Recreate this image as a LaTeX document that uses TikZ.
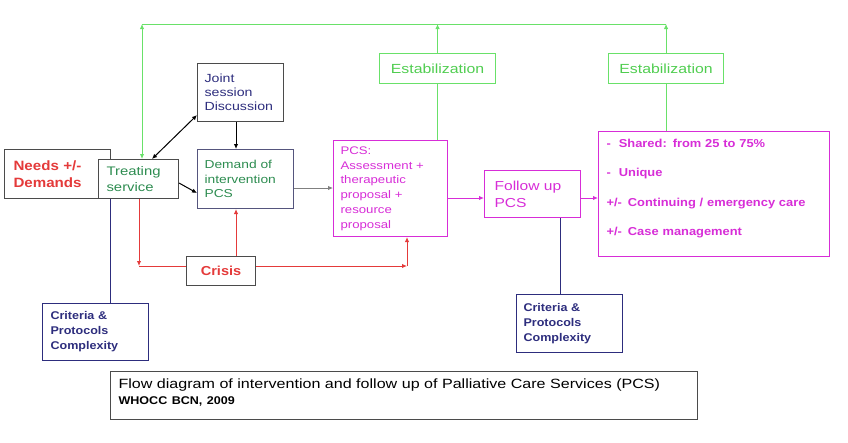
\documentclass[tikz,border=0pt]{standalone}
\usepackage{fontspec}
\setmainfont{Liberation Sans}[FakeStretch=1.2, BoldFeatures={FakeStretch=1.12}]
\usetikzlibrary{arrows.meta,calc}
\definecolor{redc}{RGB}{228,58,58}
\definecolor{greenl}{RGB}{105,225,105}
\definecolor{greent}{RGB}{80,205,80}
\definecolor{dgreen}{RGB}{45,140,80}
\definecolor{magc}{RGB}{215,45,215}
\definecolor{navyc}{RGB}{45,45,125}
\definecolor{greyc}{RGB}{75,75,75}
\definecolor{demb}{RGB}{85,85,125}
\begin{document}
\begin{tikzpicture}[x=1pt,y=-1pt,
  bx/.style={draw, rectangle, line width=1.1pt, anchor=north west, align=left, inner ysep=2pt},
  ln/.style={line width=1pt},
  tip/.style={-{Latex[length=5pt,width=4.5pt]}},
  tips/.style={{Latex[length=5pt,width=4.5pt]}-{Latex[length=5pt,width=4.5pt]}}
]
\useasboundingbox (0,0) rectangle (848,442);
% boxes
\node[bx, draw=greyc, text=redc, font=\fontsize{13.5}{17}\selectfont\bfseries,
  minimum width=106pt, minimum height=49pt, text width=88pt, inner xsep=9pt] (needs) at (4,149) {Needs +/-\\Demands};
\node[bx, draw=greyc, fill=white, text=dgreen, font=\fontsize{12.4}{15.5}\selectfont,
  minimum width=80pt, minimum height=39pt, text width=64pt, inner xsep=8pt] (treat) at (98,159) {Treating\\service};
\node[bx, draw=greyc, text=navyc, font=\fontsize{11.8}{14}\selectfont,
  minimum width=86pt, minimum height=58pt, text width=72pt, inner xsep=7pt] (joint) at (197,63) {Joint\\session\\Discussion};
\node[bx, draw=demb, text=dgreen, font=\fontsize{11.5}{14.5}\selectfont,
  minimum width=96pt, minimum height=59pt, text width=82pt, inner xsep=7pt] (demand) at (197,149) {Demand of\\intervention\\PCS};
\node[bx, draw=greyc, text=redc, font=\fontsize{13}{15}\selectfont\bfseries,
  minimum width=69pt, minimum height=29pt, align=center, inner xsep=2pt] (crisis) at (186,256) {Crisis};
\node[bx, draw=magc, text=magc, font=\fontsize{11}{14.7}\selectfont,
  minimum width=114pt, minimum height=96pt, text width=100pt, inner xsep=7pt] (pcs) at (333,140) {PCS:\\Assessment +\\therapeutic\\proposal +\\resource\\proposal};
\node[bx, draw=magc, text=magc, font=\fontsize{13}{17}\selectfont,
  minimum width=96pt, minimum height=47pt, text width=76pt, inner xsep=10pt] (follow) at (484,170) {Follow up\\PCS};
\node[bx, draw=magc, text=magc, font=\fontsize{11.5}{29.5}\selectfont\bfseries,
  minimum width=231pt, minimum height=125pt, text width=215pt, inner xsep=8pt] (big) at (598,131)
  {-\hspace{8pt}Shared:\hspace{6pt}from 25 to 75\%\\-\hspace{8pt}Unique\\+/-\hspace{6pt}Continuing / emergency care\\+/-\hspace{6pt}Case management\\[-16pt]\mbox{}};
\node[bx, draw=greenl, text=greent, font=\fontsize{13.2}{15}\selectfont,
  minimum width=116pt, minimum height=30pt, align=center, inner xsep=2pt] (est1) at (379,53) {Estabilization};
\node[bx, draw=greenl, text=greent, font=\fontsize{13.2}{15}\selectfont,
  minimum width=115pt, minimum height=30pt, align=center, inner xsep=2pt] (est2) at (608,53) {Estabilization};
\node[bx, draw=navyc, text=navyc, font=\fontsize{11.2}{15}\selectfont\bfseries,
  minimum width=106pt, minimum height=57pt, text width=90pt, inner xsep=8pt] (crit1) at (42,303) {Criteria \&\\Protocols\\Complexity};
\node[bx, draw=navyc, text=navyc, font=\fontsize{11.2}{15}\selectfont\bfseries,
  minimum width=106pt, minimum height=58pt, text width=92pt, inner xsep=7pt] (crit2) at (516,294) {Criteria \&\\Protocols\\Complexity};
\node[bx, draw=greyc, text=black, font=\fontsize{13.4}{16}\selectfont,
  minimum width=587pt, minimum height=48pt, text width=571pt, inner xsep=8pt] (cap) at (110,371)
  {Flow diagram of intervention and follow up of Palliative Care Services (PCS)\\{\fontsize{11.2}{11}\selectfont\bfseries WHOCC BCN, 2009}\\[-8pt]\mbox{}};
% helper coordinates
\coordinate (gtl) at (142,24);
\coordinate (rc1) at (139,266);
\coordinate (rc2) at (407,266);
\coordinate (rx) at (236,0);
\coordinate (lx) at (110,0);
\coordinate (fx) at (560,0);
\coordinate (fy) at (0,198);
\coordinate (dy) at (0,188);
% green
\draw[ln, greenl, tips] (treat.north -| gtl) -- (gtl);
\draw[ln, greenl] (gtl) -- (est2.north |- gtl);
\draw[ln, greenl, tip] (est1.north) -- (est1.north |- gtl);
\draw[ln, greenl, tip] (est2.north) -- (est2.north |- gtl);
\draw[ln, greenl] (est1.south) -- (est1.south |- pcs.north);
\draw[ln, greenl] (est2.south) -- (est2.south |- big.north);
% black
\draw[ln, black, tips] ($(treat.north west)+(54,0)$) -- ($(joint.south west)+(0,-7)$);
\draw[ln, black, tip] (joint.south -| rx) -- (demand.north -| rx);
\draw[ln, black, tip] ($(treat.east)+(0,4)$) -- ($(demand.west)+(0,14)$);
\draw[ln, gray, -{Latex[length=5pt,width=4.5pt,fill=black]}] (demand.east |- dy) -- (pcs.west |- dy);
% red
\draw[ln, redc, tip] (treat.south -| rc1) -- (rc1);
\draw[ln, redc] (rc1) -- (crisis.west |- rc1);
\draw[ln, redc, tip] (crisis.east |- rc2) -- (rc2);
\draw[ln, redc, tip] (rc2) -- (rc2 |- pcs.south);
\draw[ln, redc, tip] (crisis.north -| rx) -- (demand.south -| rx);
% magenta
\draw[ln, magc, tip] (pcs.east |- fy) -- (follow.west |- fy);
\draw[ln, magc, tip] (follow.east |- fy) -- (big.west |- fy);
% navy
\draw[ln, navyc] (treat.south -| lx) -- (crit1.north -| lx);
\draw[ln, navyc] (follow.south -| fx) -- (crit2.north -| fx);
\end{tikzpicture}
\end{document}
